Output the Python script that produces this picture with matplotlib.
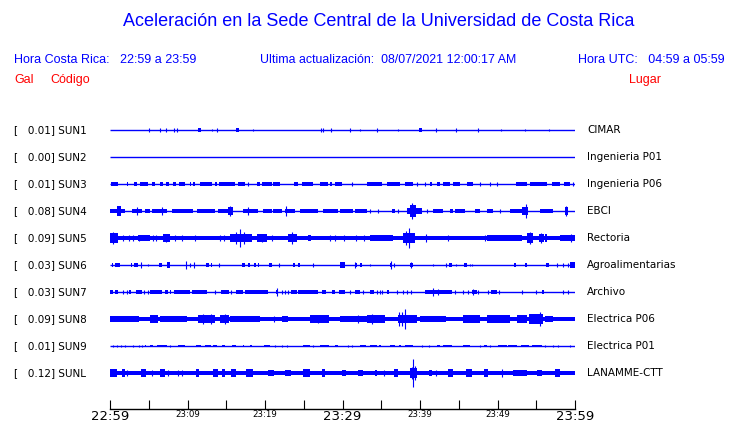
import matplotlib
matplotlib.use('Agg')
import matplotlib.pyplot as plt
from matplotlib import transforms

# stations, top to bottom
codes = ['SUN1', 'SUN2', 'SUN3', 'SUN4', 'SUN5', 'SUN6', 'SUN7', 'SUN8', 'SUN9', 'SUNL']
gal_max = [0.01, 0.00, 0.01, 0.08, 0.09, 0.03, 0.03, 0.09, 0.01, 0.12]
places = ['CIMAR', 'Ingenieria P01', 'Ingenieria P06', 'EBCI', 'Rectoria', 'Agroalimentarias',
          'Archivo', 'Electrica P06', 'Electrica P01', 'LANAMME-CTT']
# steady background level of each trace (gal)
base_amp = [0.0, 0.0, 0.0, 0.0, 0.02, 0.0, 0.0, 0.02, 0.0, 0.021]

# envelopes: bursts (start min, end min, gal), spikes (min, gal)
sun1_bursts = [(11.4, 11.7, 0.02), (16.3, 16.7, 0.02), (39.9, 40.3, 0.02)]
sun1_spikes = [(5.0, 0.02), (6.5, 0.02), (7.2, 0.02), (8.2, 0.02), (8.6, 0.02), (13.2, 0.012),
               (13.8, 0.02), (18.4, 0.012), (27.2, 0.02), (27.5, 0.02), (28.5, 0.02), (31.0, 0.02),
               (32.3, 0.012), (34.4, 0.02), (37.1, 0.012), (42.1, 0.02), (44.6, 0.02), (47.5, 0.02),
               (50.4, 0.012), (53.5, 0.012), (56.6, 0.012)]

sun2_bursts = []
sun2_spikes = []

sun3_bursts = [(0.1, 1.0, 0.014), (2.2, 2.3, 0.014), (3.1, 3.5, 0.014), (3.9, 4.9, 0.014),
               (5.4, 5.8, 0.014), (6.5, 6.8, 0.014), (7.2, 7.6, 0.014), (8.1, 8.5, 0.014),
               (8.9, 9.7, 0.014), (10.3, 10.5, 0.014), (10.7, 11.0, 0.014), (11.6, 13.2, 0.015),
               (13.5, 13.8, 0.014), (14.1, 16.1, 0.015), (16.5, 17.4, 0.015), (19.0, 19.4, 0.014),
               (19.6, 20.9, 0.014), (21.0, 21.9, 0.014), (23.7, 24.3, 0.014), (24.8, 26.2, 0.015),
               (27.1, 28.1, 0.014), (28.4, 28.6, 0.014), (29.0, 29.9, 0.014), (33.2, 35.1, 0.015),
               (35.7, 37.4, 0.015), (38.1, 39.1, 0.014), (41.3, 41.5, 0.014), (42.2, 42.6, 0.014),
               (43.0, 43.9, 0.014), (44.2, 45.2, 0.014), (46.1, 46.8, 0.014), (52.4, 53.8, 0.015),
               (54.2, 56.4, 0.015), (57.0, 58.1, 0.015), (58.6, 59.3, 0.014)]
sun3_spikes = [(17.8, 0.015), (31.2, 0.015), (39.6, 0.015), (40.6, 0.015), (47.7, 0.015),
               (49.0, 0.015), (49.9, 0.015), (59.7, 0.015)]

sun4_bursts = [(0.0, 1.9, 0.02), (0.9, 1.4, 0.04), (2.8, 4.1, 0.02), (4.5, 5.2, 0.018),
               (5.4, 7.4, 0.02), (8.0, 10.7, 0.02), (11.2, 13.5, 0.02), (13.9, 15.2, 0.02),
               (15.2, 15.9, 0.03), (17.2, 19.1, 0.02), (19.7, 20.9, 0.018), (21.0, 22.2, 0.018),
               (22.6, 23.9, 0.02), (24.5, 26.8, 0.02), (27.5, 29.4, 0.02), (29.7, 31.4, 0.02),
               (31.6, 33.2, 0.02), (36.4, 36.8, 0.018), (38.3, 40.3, 0.025), (38.7, 39.5, 0.05),
               (41.7, 43.0, 0.02), (43.9, 44.3, 0.018), (44.5, 45.8, 0.02), (47.1, 47.7, 0.018),
               (48.6, 49.4, 0.018), (51.6, 53.1, 0.02), (53.1, 53.9, 0.03), (55.5, 57.1, 0.02),
               (58.7, 59.1, 0.03)]
sun4_spikes = [(3.5, 0.03), (6.7, 0.03), (15.5, 0.04), (17.8, 0.035), (22.7, 0.04), (33.5, 0.015),
               (34.6, 0.015), (37.2, 0.015), (39.0, 0.07), (40.9, 0.015), (50.3, 0.015),
               (53.7, 0.056), (58.9, 0.04)]

sun5_bursts = [(0.0, 1.0, 0.04), (3.6, 5.2, 0.028), (6.8, 7.7, 0.03), (15.5, 18.3, 0.035),
               (19.0, 20.3, 0.03), (23.0, 24.1, 0.03), (25.5, 25.9, 0.026), (33.5, 36.5, 0.025),
               (37.8, 39.3, 0.04), (48.6, 53.2, 0.024), (53.8, 54.6, 0.04), (55.3, 56.0, 0.035),
               (56.1, 56.4, 0.035), (58.1, 60.0, 0.025)]
sun5_spikes = [(0.4, 0.048), (1.7, 0.026), (2.5, 0.026), (3.0, 0.026), (3.7, 0.026), (5.5, 0.026),
               (5.9, 0.026), (7.2, 0.038), (8.4, 0.026), (9.3, 0.026), (11.0, 0.026), (14.2, 0.024),
               (14.7, 0.024), (16.3, 0.05), (16.8, 0.073), (17.3, 0.05), (19.6, 0.035), (20.9, 0.024),
               (23.5, 0.05), (28.4, 0.026), (29.0, 0.026), (30.2, 0.026), (31.7, 0.026), (32.8, 0.026),
               (38.2, 0.06), (38.6, 0.081), (40.8, 0.03), (43.6, 0.026), (48.4, 0.024), (54.2, 0.05),
               (55.6, 0.04), (59.5, 0.03)]

sun6_bursts = [(0.2, 0.4, 0.014), (0.7, 1.3, 0.017), (2.7, 2.9, 0.014), (3.1, 3.6, 0.017),
               (6.3, 6.7, 0.017), (7.4, 7.8, 0.022), (12.4, 12.8, 0.02), (13.0, 13.2, 0.014),
               (17.0, 17.4, 0.017), (17.8, 18.1, 0.014), (18.6, 18.8, 0.02), (19.1, 19.2, 0.014),
               (20.5, 20.9, 0.014), (23.6, 23.9, 0.014), (24.3, 24.5, 0.014), (29.7, 30.3, 0.022),
               (31.6, 31.9, 0.017), (32.3, 32.5, 0.014), (36.1, 36.4, 0.017), (38.7, 39.1, 0.017),
               (43.8, 44.1, 0.017), (45.7, 46.0, 0.017), (52.1, 52.4, 0.014), (53.5, 53.8, 0.017),
               (56.2, 56.7, 0.017), (59.4, 60.0, 0.022)]
sun6_spikes = [(4.0, 0.026), (4.9, 0.012), (9.8, 0.03), (10.3, 0.014), (10.8, 0.026), (14.1, 0.016),
               (21.8, 0.014), (26.2, 0.016), (31.6, 0.026), (33.5, 0.012), (36.2, 0.03), (36.7, 0.014),
               (38.8, 0.026), (41.7, 0.012), (43.4, 0.014), (44.7, 0.012), (46.4, 0.012), (46.7, 0.012),
               (57.7, 0.014), (58.4, 0.014), (59.1, 0.014)]

sun7_bursts = [(0.0, 0.4, 0.015), (0.6, 1.0, 0.013), (2.4, 2.7, 0.02), (3.4, 4.1, 0.02),
               (5.2, 6.7, 0.016), (7.1, 7.5, 0.015), (7.8, 7.9, 0.013), (8.2, 10.3, 0.016),
               (10.6, 12.5, 0.016), (14.3, 15.3, 0.015), (16.3, 17.2, 0.016), (17.4, 20.4, 0.016),
               (21.4, 21.7, 0.017), (23.4, 24.1, 0.015), (24.2, 26.9, 0.016), (27.3, 27.9, 0.015),
               (28.7, 29.0, 0.013), (29.5, 30.3, 0.016), (31.6, 32.3, 0.017), (33.5, 34.0, 0.015),
               (35.7, 36.0, 0.015), (40.6, 44.1, 0.016), (46.7, 47.3, 0.017), (49.2, 49.9, 0.015),
               (55.7, 56.0, 0.015)]
sun7_spikes = [(1.7, 0.013), (2.2, 0.013), (4.4, 0.013), (4.9, 0.013), (13.5, 0.013), (15.6, 0.013),
               (21.5, 0.03), (22.2, 0.013), (22.6, 0.013), (23.0, 0.013), (31.0, 0.013), (32.7, 0.013),
               (34.4, 0.013), (34.8, 0.013), (35.1, 0.013), (37.0, 0.013), (37.8, 0.013), (38.3, 0.013),
               (38.8, 0.013), (41.7, 0.03), (42.3, 0.022), (44.5, 0.013), (45.6, 0.013), (46.2, 0.013),
               (46.8, 0.025), (47.5, 0.013), (48.8, 0.013), (50.2, 0.013), (53.1, 0.014), (55.0, 0.013),
               (58.4, 0.013), (59.1, 0.013)]

sun8_bursts = [(0.0, 3.7, 0.028), (5.2, 6.2, 0.034), (6.5, 9.9, 0.028), (11.4, 13.5, 0.035),
               (14.2, 15.3, 0.035), (15.5, 19.4, 0.028), (22.2, 23.0, 0.028), (25.8, 28.2, 0.03),
               (29.7, 33.1, 0.028), (33.1, 35.5, 0.035), (37.2, 39.6, 0.035), (40.0, 43.4, 0.026),
               (45.6, 47.7, 0.03), (48.6, 51.6, 0.034), (52.5, 53.8, 0.038), (54.0, 55.9, 0.04),
               (56.1, 57.2, 0.026)]
sun8_spikes = [(12.0, 0.043), (13.0, 0.043), (14.8, 0.04), (21.1, 0.026), (26.8, 0.034),
               (32.0, 0.034), (33.8, 0.045), (37.3, 0.06), (37.7, 0.06), (38.1, 0.086),
               (55.5, 0.06)]

sun9_bursts = [(4.5, 4.7, 0.012), (5.2, 5.6, 0.012), (6.0, 7.3, 0.012), (8.8, 9.7, 0.012),
               (11.1, 11.8, 0.012), (12.3, 13.0, 0.012), (13.3, 13.8, 0.012), (14.4, 14.8, 0.012),
               (15.7, 16.3, 0.012), (17.1, 17.3, 0.012), (18.0, 18.3, 0.012), (19.9, 20.6, 0.012),
               (24.9, 25.8, 0.012), (27.1, 28.2, 0.012), (29.0, 29.4, 0.012), (32.3, 33.0, 0.012),
               (33.6, 34.4, 0.012), (34.7, 35.0, 0.012), (36.1, 36.8, 0.012), (37.3, 37.6, 0.012),
               (38.1, 39.1, 0.012), (42.2, 42.6, 0.012), (43.0, 44.1, 0.012), (45.6, 46.5, 0.012),
               (48.2, 48.6, 0.012), (50.1, 51.2, 0.012), (51.4, 52.5, 0.012), (53.0, 54.0, 0.012),
               (54.4, 55.7, 0.012)]
sun9_spikes = [(0.4, 0.012), (0.9, 0.012), (1.4, 0.012), (1.9, 0.012), (3.0, 0.012), (3.7, 0.012),
               (4.1, 0.012), (7.7, 0.012), (21.3, 0.012), (22.2, 0.012), (22.8, 0.012), (26.2, 0.012),
               (30.7, 0.012), (31.2, 0.012), (40.3, 0.012), (41.2, 0.012), (47.7, 0.012), (49.0, 0.012),
               (56.1, 0.012), (57.1, 0.012), (57.8, 0.012), (59.4, 0.012)]

sunl_bursts = [(0.0, 0.9, 0.034), (1.5, 1.9, 0.03), (4.0, 4.7, 0.034), (6.5, 7.1, 0.034),
               (11.1, 11.5, 0.03), (13.3, 14.0, 0.03), (14.4, 14.8, 0.034), (15.6, 16.3, 0.03),
               (17.6, 18.5, 0.03), (20.4, 21.1, 0.028), (22.6, 23.4, 0.028), (24.9, 25.8, 0.03),
               (27.3, 27.7, 0.034), (29.9, 30.5, 0.028), (32.0, 32.7, 0.028), (34.2, 34.4, 0.028),
               (36.6, 37.1, 0.03), (38.7, 39.6, 0.04), (41.1, 41.5, 0.028), (43.6, 44.3, 0.03),
               (45.9, 46.7, 0.03), (48.2, 48.8, 0.03), (52.0, 53.8, 0.028), (55.1, 55.7, 0.028),
               (57.4, 58.1, 0.03)]
sunl_spikes = [(2.2, 0.028), (5.4, 0.028), (7.5, 0.028), (8.8, 0.028), (9.3, 0.028), (35.3, 0.028),
               (39.0, 0.05), (39.1, 0.12), (39.3, 0.06), (42.1, 0.028), (50.6, 0.034)]

bursts = [sun1_bursts, sun2_bursts, sun3_bursts, sun4_bursts, sun5_bursts,
          sun6_bursts, sun7_bursts, sun8_bursts, sun9_bursts, sunl_bursts]
spikes = [sun1_spikes, sun2_spikes, sun3_spikes, sun4_spikes, sun5_spikes,
          sun6_spikes, sun7_spikes, sun8_spikes, sun9_spikes, sunl_spikes]

start_h, start_m = 22, 59
utc_h, utc_m = 4, 59
duration = 60

BLUE = '#0000ff'
RED = '#ff0000'
SPACING = 0.23  # gal between traces

fig = plt.figure(figsize=(7.4, 4.23), dpi=100)
ax = fig.add_axes([110 / 740, 14 / 423, 465 / 740, 291 / 423])

for i, code in enumerate(codes):
    y0 = -i * SPACING
    ax.hlines(y0, 0, duration, color=BLUE, lw=1.0)
    if base_amp[i] > 0:
        ax.fill_between([0, duration], y0 - base_amp[i], y0 + base_amp[i], color=BLUE, lw=0)
    for t0, t1, a in bursts[i]:
        ax.bar(t0, 2 * a, width=t1 - t0, bottom=y0 - a, align='edge', color=BLUE, lw=0)
    for t, a in spikes[i]:
        ax.vlines(t, y0 - a, y0 + a, color=BLUE, lw=0.8)

ax.set_xlim(0, duration)
ax.set_ylim(-(len(codes) - 1 + 1.333) * SPACING, 0.444 * SPACING)
for s in ['top', 'left', 'right']:
    ax.spines[s].set_visible(False)
ax.spines['bottom'].set_linewidth(1.0)
ax.set_yticks([])


def hhmm(m):
    tot = start_h * 60 + start_m + m
    return '{:02d}:{:02d}'.format((tot // 60) % 24, tot % 60)


ticks = list(range(0, duration + 1, 5))
ax.set_xticks(ticks)
labels = [hhmm(t) if t % 10 == 0 else '' for t in ticks]
ax.set_xticklabels(labels)
ax.tick_params(axis='x', direction='in', length=6.5, width=0.8, pad=1)
for t, lab in zip(ticks, ax.get_xticklabels()):
    lab.set_fontsize(9.5 if t % 30 == 0 else 6.2)

# station labels
trans = transforms.blended_transform_factory(fig.transFigure, ax.transData)
for i, code in enumerate(codes):
    y0 = -i * SPACING
    ax.text(14 / 740, y0, '[   {:.2f}] {}'.format(gal_max[i], code), transform=trans,
            fontsize=7.5, va='center', ha='left', color='black')
    ax.text(587 / 740, y0, places[i], transform=trans,
            fontsize=7.5, va='center', ha='left', color='black')

# header
hfont = 'Liberation Sans'
fig.text(379 / 740, 1 - 22 / 423, 'Aceleración en la Sede Central de la Universidad de Costa Rica',
         ha='center', va='center', fontsize=13, color=BLUE, family=hfont)
fig.text(14 / 740, 1 - 60 / 423, 'Hora Costa Rica:   {} a {}'.format(hhmm(0), hhmm(duration)),
         ha='left', va='center', fontsize=9, color=BLUE, family=hfont)
fig.text(260 / 740, 1 - 60 / 423, 'Ultima actualización:  08/07/2021 12:00:17 AM',
         ha='left', va='center', fontsize=8.9, color=BLUE, family=hfont)
utc_end = utc_h * 60 + utc_m + duration
fig.text(725 / 740, 1 - 60 / 423, 'Hora UTC:   {:02d}:{:02d} a {:02d}:{:02d}'.format(
    utc_h, utc_m, utc_end // 60, utc_end % 60),
         ha='right', va='center', fontsize=9, color=BLUE, family=hfont)
fig.text(14 / 740, 1 - 80 / 423, 'Gal', ha='left', va='center', fontsize=9, color=RED, family=hfont)
fig.text(50 / 740, 1 - 80 / 423, 'Código', ha='left', va='center', fontsize=9, color=RED, family=hfont)
fig.text(629 / 740, 1 - 80 / 423, 'Lugar', ha='left', va='center', fontsize=9, color=RED, family=hfont)

fig.savefig('out.png', dpi=100)
